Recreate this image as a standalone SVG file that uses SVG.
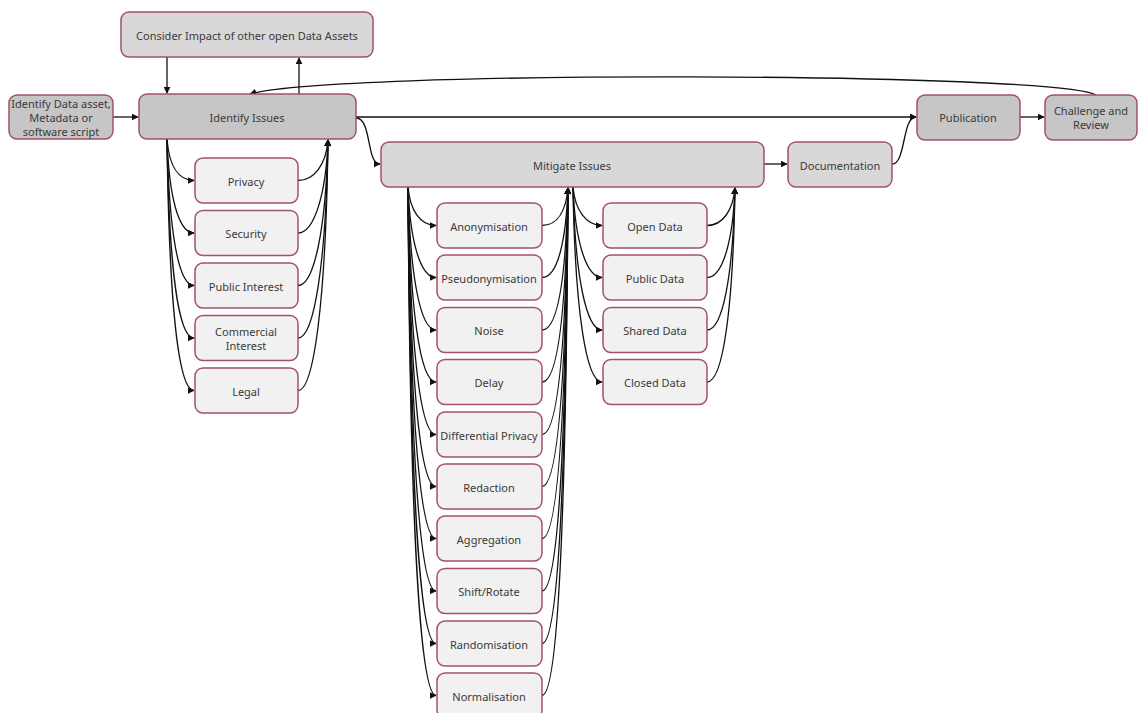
<svg xmlns="http://www.w3.org/2000/svg" width="1139" height="713" viewBox="0 0 1139 713">
<style>
.n rect{stroke:#a3506b;stroke-width:1.5}
.d rect{fill:#c6c6c6}
.m rect{fill:#d8d8d8}
.s rect{fill:#f1f1f1}
text{font-family:"Noto Sans","Open Sans",sans-serif;font-size:11px;fill:#3a3a3a;text-anchor:middle;dominant-baseline:central}
#connectors path{fill:none;stroke:#111;stroke-width:1.3}
</style>
<defs>
<marker id="a" viewBox="0 0 10 10" refX="9" refY="5" markerWidth="7" markerHeight="7" markerUnits="userSpaceOnUse" orient="auto"><path d="M0,0 L10,5 L0,10 z" fill="#111"/></marker>
</defs>
<rect width="1139" height="713" fill="#fff"/>
<g id="connectors">
<path d="M167,57 V93" marker-end="url(#a)"/>
<path d="M299,94 V58" marker-end="url(#a)"/>
<path d="M113,117 H138" marker-end="url(#a)"/>
<path d="M1096,95 C1060,72 330,70 250,94" marker-end="url(#a)"/>
<path d="M356,117 H916" marker-end="url(#a)"/>
<path d="M1020,117 H1044" marker-end="url(#a)"/>
<path d="M356,118 C372,118 366,164 380,164" marker-end="url(#a)"/>
<path d="M764,164 H787" marker-end="url(#a)"/>
<path d="M892,164 C906,164 902,117 916,117" marker-end="url(#a)"/>
<!-- identify fan -->
<path d="M167,139 C169,165 178,180.5 194,180.5" marker-end="url(#a)"/>
<path d="M167,139 C169,195 178,233 194,233" marker-end="url(#a)"/>
<path d="M167,139 C169,230 178,285.5 194,285.5" marker-end="url(#a)"/>
<path d="M167,139 C169,265 178,338 194,338" marker-end="url(#a)"/>
<path d="M167,139 C169,300 178,390.5 194,390.5" marker-end="url(#a)"/>
<path d="M298,180.5 C314,180.5 326,165 328,140" marker-end="url(#a)"/>
<path d="M298,233 C314,233 326,195 328,140" marker-end="url(#a)"/>
<path d="M298,285.5 C314,285.5 326,230 328,140" marker-end="url(#a)"/>
<path d="M298,338 C314,338 326,265 328,140" marker-end="url(#a)"/>
<path d="M298,390.5 C314,390.5 326,300 328,140" marker-end="url(#a)"/>
<!-- mitigate fan -->
<path d="M408,187 C410,210 420,225.5 436,225.5" marker-end="url(#a)"/>
<path d="M408,187 C410,240 420,277.5 436,277.5" marker-end="url(#a)"/>
<path d="M408,187 C410,275 420,330 436,330" marker-end="url(#a)"/>
<path d="M408,187 C410,310 420,382 436,382" marker-end="url(#a)"/>
<path d="M408,187 C410,345 420,434.5 436,434.5" marker-end="url(#a)"/>
<path d="M408,187 C410,380 420,486.5 436,486.5" marker-end="url(#a)"/>
<path d="M408,187 C410,415 420,538.5 436,538.5" marker-end="url(#a)"/>
<path d="M408,187 C410,450 420,591 436,591" marker-end="url(#a)"/>
<path d="M408,187 C410,485 420,643.5 436,643.5" marker-end="url(#a)"/>
<path d="M408,187 C410,520 420,695.5 436,695.5" marker-end="url(#a)"/>
<path d="M542,225.5 C558,225.5 566,210 568,188" marker-end="url(#a)"/>
<path d="M542,277.5 C558,277.5 566,240 568,188" marker-end="url(#a)"/>
<path d="M542,330 C558,330 566,275 568,188" marker-end="url(#a)"/>
<path d="M542,382 C558,382 566,310 568,188" marker-end="url(#a)"/>
<path d="M542,434.5 C558,434.5 566,345 568,188" marker-end="url(#a)"/>
<path d="M542,486.5 C558,486.5 566,380 568,188" marker-end="url(#a)"/>
<path d="M542,538.5 C558,538.5 566,415 568,188" marker-end="url(#a)"/>
<path d="M542,591 C558,591 566,450 568,188" marker-end="url(#a)"/>
<path d="M542,643.5 C558,643.5 566,485 568,188" marker-end="url(#a)"/>
<path d="M542,695.5 C558,695.5 566,520 568,188" marker-end="url(#a)"/>
<!-- data fan -->
<path d="M573,187 C575,210 586,225.5 602,225.5" marker-end="url(#a)"/>
<path d="M573,187 C575,240 586,277.5 602,277.5" marker-end="url(#a)"/>
<path d="M573,187 C575,275 586,330 602,330" marker-end="url(#a)"/>
<path d="M573,187 C575,310 586,382 602,382" marker-end="url(#a)"/>
<path d="M707,225.5 C723,225.5 733,210 735,188" marker-end="url(#a)"/>
<path d="M707,277.5 C723,277.5 733,240 735,188" marker-end="url(#a)"/>
<path d="M707,330 C723,330 733,275 735,188" marker-end="url(#a)"/>
<path d="M707,382 C723,382 733,310 735,188" marker-end="url(#a)"/>
</g>
<g id="consider" class="n m"><rect x="121" y="12" width="252" height="45" rx="8"/><text x="247" y="35">Consider Impact of other open Data Assets</text></g>
<g id="identify-asset" class="n d"><rect x="9" y="95" width="104" height="44" rx="8"/><text x="61" y="103">Identify Data asset,</text><text x="61" y="117">Metadata or</text><text x="61" y="131">software script</text></g>
<g id="identify-issues" class="n d"><rect x="139" y="94" width="217" height="45" rx="8"/><text x="247" y="117">Identify Issues</text></g>
<g id="publication" class="n d"><rect x="917" y="95" width="103" height="45" rx="8"/><text x="968" y="117">Publication</text></g>
<g id="challenge" class="n d"><rect x="1045" y="95" width="92" height="45" rx="8"/><text x="1091" y="110">Challenge and</text><text x="1091" y="124">Review</text></g>
<g id="mitigate" class="n m"><rect x="381" y="142" width="383" height="45" rx="8"/><text x="572" y="165">Mitigate Issues</text></g>
<g id="documentation" class="n m"><rect x="788" y="142" width="104" height="45" rx="8"/><text x="840" y="165">Documentation</text></g>
<g id="privacy" class="n s"><rect x="195" y="158" width="103" height="45" rx="8"/><text x="246" y="181">Privacy</text></g>
<g id="security" class="n s"><rect x="195" y="210.5" width="103" height="45" rx="8"/><text x="246" y="233">Security</text></g>
<g id="public-interest" class="n s"><rect x="195" y="263" width="103" height="45" rx="8"/><text x="246" y="286">Public Interest</text></g>
<g id="commercial-interest" class="n s"><rect x="195" y="315.5" width="103" height="45" rx="8"/><text x="246" y="331">Commercial</text><text x="246" y="345">Interest</text></g>
<g id="legal" class="n s"><rect x="195" y="368" width="103" height="45" rx="8"/><text x="246" y="391">Legal</text></g>
<g id="anonymisation" class="n s"><rect x="437" y="203" width="105" height="45" rx="8"/><text x="489" y="226">Anonymisation</text></g>
<g id="pseudonymisation" class="n s"><rect x="437" y="255" width="105" height="45" rx="8"/><text x="489" y="278">Pseudonymisation</text></g>
<g id="noise" class="n s"><rect x="437" y="307.5" width="105" height="45" rx="8"/><text x="489" y="330">Noise</text></g>
<g id="delay" class="n s"><rect x="437" y="359.5" width="105" height="45" rx="8"/><text x="489" y="382">Delay</text></g>
<g id="differential-privacy" class="n s"><rect x="437" y="412" width="105" height="45" rx="8"/><text x="489" y="435">Differential Privacy</text></g>
<g id="redaction" class="n s"><rect x="437" y="464" width="105" height="45" rx="8"/><text x="489" y="487">Redaction</text></g>
<g id="aggregation" class="n s"><rect x="437" y="516" width="105" height="45" rx="8"/><text x="489" y="539">Aggregation</text></g>
<g id="shift-rotate" class="n s"><rect x="437" y="568.5" width="105" height="45" rx="8"/><text x="489" y="591">Shift/Rotate</text></g>
<g id="randomisation" class="n s"><rect x="437" y="621" width="105" height="45" rx="8"/><text x="489" y="644">Randomisation</text></g>
<g id="normalisation" class="n s"><rect x="437" y="673" width="105" height="45" rx="8"/><text x="489" y="696">Normalisation</text></g>
<g id="open-data" class="n s"><rect x="603" y="203" width="104" height="45" rx="8"/><text x="655" y="226">Open Data</text></g>
<g id="public-data" class="n s"><rect x="603" y="255" width="104" height="45" rx="8"/><text x="655" y="278">Public Data</text></g>
<g id="shared-data" class="n s"><rect x="603" y="307.5" width="104" height="45" rx="8"/><text x="655" y="330">Shared Data</text></g>
<g id="closed-data" class="n s"><rect x="603" y="359.5" width="104" height="45" rx="8"/><text x="655" y="382">Closed Data</text></g>
</svg>
